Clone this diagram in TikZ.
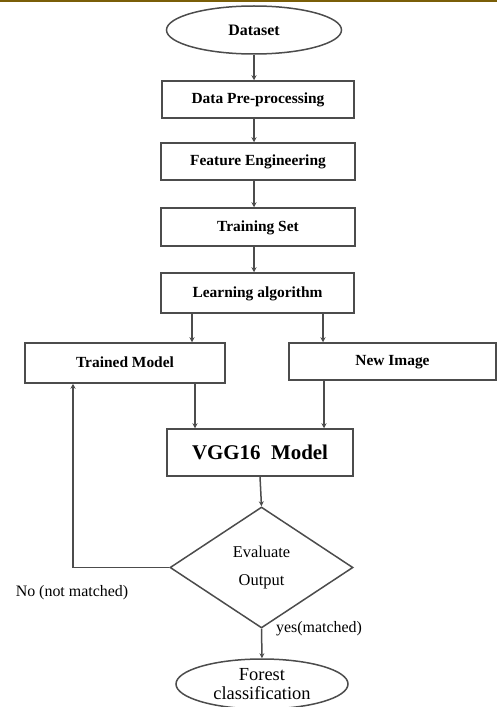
\documentclass[tikz,border=0pt]{standalone}
\usepackage{fontspec}
\setmainfont{Liberation Serif}
\usetikzlibrary{shapes.geometric,arrows.meta}
\definecolor{barcol}{RGB}{122,94,8}

\begin{document}
\begin{tikzpicture}[x=1bp, y=-1bp,
    stepbox/.style={rectangle, draw=black!70, line width=1.5bp, inner sep=0pt, text height=11bp, text depth=3bp, font=\fontsize{15.5}{18}\selectfont\bfseries},
    endbox/.style={ellipse, draw=black!70, line width=1.5bp, inner sep=0pt, align=center},
    arr/.style={draw=black!70, line width=1.5bp, -{Stealth[length=5bp, width=5bp]}},
    lbl/.style={font=\fontsize{16}{18}\selectfont}]
                    \useasboundingbox (0,0) rectangle (497,707);
                    \fill[barcol] (0,0) rectangle (497,2.5);
                    \node[endbox, minimum width=175bp, minimum height=48bp, font=\fontsize{16}{18}\selectfont\bfseries] (data) at (254,30) {Dataset};
                    \node[stepbox, minimum width=192bp, minimum height=37bp] (pre) at (258,99.5) {Data Pre-processing};
                    \node[stepbox, minimum width=194bp, minimum height=37bp] (feat) at (258,161.5) {Feature Engineering};
                    \node[stepbox, minimum width=194bp, minimum height=38bp] (train) at (258,227) {Training Set};
                    \node[stepbox, minimum width=193bp, minimum height=40bp] (learn) at (257.5,293) {Learning algorithm};
                    \node[stepbox, minimum width=200bp, minimum height=40bp] (tmodel) at (125,363) {Trained Model};
                    \node[stepbox, minimum width=207bp, minimum height=37bp] (newimg) at (392.5,361.5) {New Image};
                    \node[stepbox, minimum width=186bp, minimum height=47bp, text height=15bp, text depth=1bp, font=\fontsize{21}{24}\selectfont\bfseries] (vgg) at (260,452.5) {VGG16\enspace Model};
                    \node[diamond, draw=black!70, line width=1.5bp, inner sep=0pt, minimum width=183bp, minimum height=121bp, align=center, font=\fontsize{16.5}{28}\selectfont] (eval) at (261.5,567.5) {Evaluate\\Output};
                    \node[endbox, minimum width=172bp, minimum height=50bp, font=\fontsize{18.5}{18.5}\selectfont] (forest) at (262,684) {Forest\\classification};
                    \node[lbl] (nolbl) at (72,593) {No (not matched)};
                    \node[lbl] (yeslbl) at (319,629) {yes(matched)};
                    \draw[arr] (data.south) -- (data.south |- pre.north);
                    \draw[arr] ([xshift=-4bp]pre.south) -- ([xshift=-4bp]pre.south |- feat.north);
                    \draw[arr] ([xshift=-4bp]feat.south) -- ([xshift=-4bp]feat.south |- train.north);
                    \draw[arr] ([xshift=-4bp]train.south) -- ([xshift=-4bp]train.south |- learn.north);
                    \draw[arr] ([xshift=-65.5bp]learn.south) -- ([xshift=-65.5bp]learn.south |- tmodel.north);
                    \draw[arr] ([xshift=65.5bp]learn.south) -- ([xshift=65.5bp]learn.south |- newimg.north);
                    \draw[arr] ([xshift=-65bp]vgg.north |- tmodel.south) -- ([xshift=-65bp]vgg.north);
                    \draw[arr] ([xshift=64bp]vgg.north |- newimg.south) -- ([xshift=64bp]vgg.north);
                    \draw[arr] (vgg.south) -- (eval.north);
                    \draw[arr] (eval.south) -- (forest.north);
                    \draw[arr] (eval.west) -| ([xshift=-52bp]tmodel.south);
                \end{tikzpicture}
\end{document}
